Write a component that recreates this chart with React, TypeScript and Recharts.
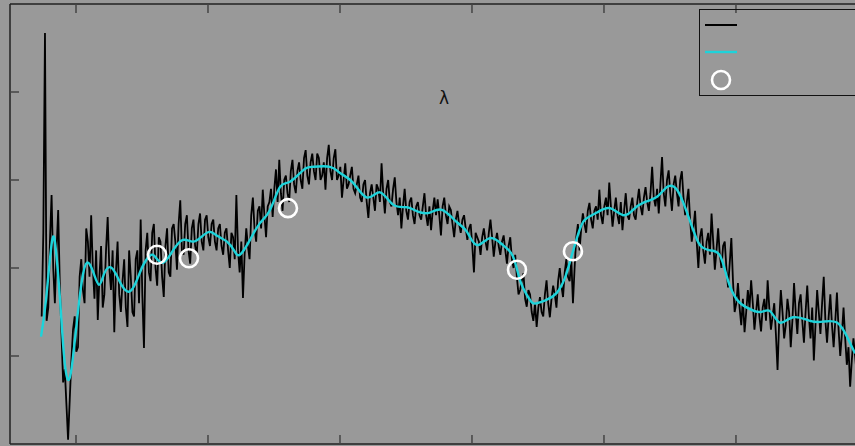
import React from 'react';
import { ComposedChart, Line, Scatter, XAxis, YAxis, Legend } from 'recharts';

// Observed (noisy) spectrum. Samples A at BLACK_START + i*BLACK_STEP,
// samples B halfway between consecutive A samples.
const BLACK_START = 3740;
const BLACK_STEP = 25;
const blackFluxA = [
  1.45, 4.67, 1.55, 2.83, 1.6, 2.66, 1.25, 0.85, 0.05, 0.95,
  1.45, 1.1, 2.1, 1.6, 2.3, 2.6, 1.65, 1.41, 2.25, 1.7,
  2.58, 1.75, 1.27, 2.3, 1.5, 2.1, 1.33, 1.9, 1.45, 2.2,
  2.55, 1.09, 2.4, 1.85, 2.5, 1.8, 2.3, 1.67, 2.45, 1.9,
  2.5, 1.98, 2.77, 2.15, 2.6, 2.05, 2.55, 2.15, 2.62, 2.2,
  2.6, 2.25, 2.55, 2.2, 2.5, 2.15, 2.45, 2.0, 2.35, 2.83,
  1.95, 1.66, 2.45, 2.1, 2.8, 2.3, 2.7, 2.89, 2.35, 2.75,
  2.58, 3.12, 3.23, 2.65, 3.05, 2.75, 3.23, 2.85, 3.2, 2.9,
  3.34, 2.95, 3.3, 3.0, 3.25, 3.05, 2.89, 3.4, 3.0, 3.35,
  3.05, 2.8, 3.19, 2.95, 3.15, 2.85, 3.05, 2.75, 3.0, 2.57,
  2.95, 2.65, 2.9, 3.19, 2.62, 3.0, 2.7, 3.03, 2.6, 2.45,
  2.9, 2.55, 2.8, 2.5, 2.75, 2.55, 2.85, 2.48, 2.43, 2.8,
  2.78, 2.37, 2.8, 2.5, 2.66, 2.35, 2.65, 2.4, 2.6, 2.32,
  2.5, 1.95, 2.35, 2.15, 2.45, 2.2, 2.55, 2.13, 2.4, 2.15,
  2.37, 2.05, 2.35, 2.0, 1.9, 1.75, 1.94, 1.56, 1.7, 1.4,
  1.33, 1.67, 1.45, 1.86, 1.44, 1.8, 1.55, 2.0, 1.67, 2.1,
  1.85, 1.6, 2.35, 2.2, 2.62, 2.4, 2.74, 2.45, 2.7, 2.89,
  2.5, 2.8, 2.97, 2.47, 2.8, 2.5, 2.43, 2.85, 2.55, 2.8,
  2.55, 2.9, 2.6, 2.92, 2.65, 3.15, 2.7, 2.62, 3.26, 2.7,
  3.11, 2.65, 3.05, 2.7, 3.1, 2.6, 2.9, 2.3, 2.65, 2.0,
  2.45, 2.05, 2.4, 2.62, 1.98, 2.45, 2.0, 2.3, 1.78, 2.34,
  1.5, 1.83, 1.35, 1.27, 1.75, 1.86, 1.3, 1.7, 1.28, 1.65,
  1.86, 1.3, 1.6, 0.84, 1.75, 1.2, 1.65, 1.1, 1.83, 1.25,
  1.7, 1.15, 1.8, 1.2, 0.95, 1.75, 1.25, 1.9, 1.15, 1.7,
  1.1, 1.72, 1.0, 1.55, 0.9, 0.65, 1.2, 0.8,
];
const blackFluxB = [
  2.4, 1.4, 2.3, 2.0, 2.2, 1.8, 0.7, 0.45, 0.5, 1.3,
  1.05, 1.9, 1.75, 2.45, 1.9, 2.0, 2.2, 1.9, 1.55, 2.2,
  2.0, 2.2, 1.95, 1.7, 1.85, 1.55, 2.2, 1.5, 2.1, 1.6,
  1.7, 2.2, 1.95, 2.4, 2.0, 2.35, 1.9, 2.25, 1.95, 2.45,
  2.3, 2.5, 2.2, 2.5, 2.2, 2.45, 2.25, 2.5, 2.3, 2.55,
  2.35, 2.5, 2.3, 2.45, 2.25, 2.4, 2.2, 2.4, 2.1, 2.2,
  2.3, 2.15, 2.25, 2.6, 2.45, 2.65, 2.45, 2.6, 2.7, 2.9,
  2.9, 2.75, 2.85, 3.0, 2.85, 3.1, 2.95, 3.1, 3.0, 3.25,
  3.05, 3.2, 3.1, 3.3, 3.0, 3.2, 3.25, 3.1, 3.25, 3.0,
  3.15, 3.0, 2.9, 3.05, 2.9, 2.95, 2.8, 2.95, 2.75, 2.85,
  2.8, 2.95, 2.75, 2.85, 2.9, 2.75, 2.9, 2.75, 2.8, 2.7,
  2.65, 2.75, 2.6, 2.7, 2.6, 2.7, 2.6, 2.7, 2.65, 2.6,
  2.6, 2.7, 2.6, 2.7, 2.5, 2.55, 2.5, 2.55, 2.45, 2.45,
  2.25, 2.4, 2.3, 2.35, 2.3, 2.4, 2.35, 2.3, 2.25, 2.3,
  2.2, 2.25, 2.1, 2.15, 1.7, 1.85, 1.65, 1.75, 1.5, 1.6,
  1.55, 1.5, 1.7, 1.6, 1.65, 1.7, 1.85, 1.8, 1.95, 1.9,
  2.1, 2.0, 2.5, 2.45, 2.5, 2.65, 2.55, 2.65, 2.55, 2.6,
  2.7, 2.6, 2.7, 2.65, 2.6, 2.75, 2.65, 2.6, 2.7, 2.6,
  2.75, 2.7, 2.8, 2.75, 2.85, 2.8, 2.9, 2.95, 2.85, 3.0,
  2.85, 2.95, 2.85, 3.0, 2.8, 2.75, 2.55, 2.45, 2.3, 2.35,
  2.2, 2.3, 2.15, 2.3, 2.2, 2.15, 2.25, 2.0, 2.05, 1.85,
  1.6, 1.55, 1.65, 1.5, 1.55, 1.6, 1.5, 1.45, 1.55, 1.4,
  1.55, 1.45, 1.25, 1.4, 1.5, 1.35, 1.5, 1.4, 1.5, 1.6,
  1.4, 1.5, 1.45, 1.55, 1.35, 1.5, 1.6, 1.4, 1.45, 1.35,
  1.4, 1.3, 1.25, 1.2, 1.1, 0.95, 1.0,
];

// Smoothed spectrum
const smoothWl = [
  3735, 3773, 3818, 3848, 3879, 3909, 3939, 3970, 4008, 4045, 4083, 4129, 4174, 4212, 4258, 4303,
  4348, 4402, 4455, 4508, 4561, 4598, 4659, 4735, 4811, 4886, 4955, 5015, 5076, 5144, 5197, 5242,
  5318, 5394, 5470, 5545, 5621, 5720, 5795, 5924, 6000, 6098, 6205, 6303, 6402, 6508, 6591, 6682,
  6773, 6886, 6962, 7038, 7136, 7235, 7311, 7364, 7417, 7462, 7515, 7568, 7644, 7705, 7742, 7803,
  7856, 7947, 8045, 8144, 8220, 8295, 8402, 8477, 8553, 8629, 8705, 8750, 8803, 8879, 8939, 9008,
  9083, 9182, 9258, 9333, 9432, 9561, 9659, 9765, 9841, 9902,
];
const smoothFlux = [
  1.22, 1.64, 2.30, 2.20, 1.64, 1.01, 0.73, 0.90, 1.41, 1.86, 2.06, 1.96, 1.81, 1.93, 2.01, 1.93,
  1.80, 1.73, 1.84, 2.03, 2.14, 2.13, 2.06, 2.20, 2.32, 2.30, 2.36, 2.41, 2.36, 2.30, 2.20, 2.15,
  2.32, 2.51, 2.66, 2.92, 2.98, 3.11, 3.15, 3.15, 3.08, 2.97, 2.80, 2.86, 2.72, 2.69, 2.64, 2.63,
  2.66, 2.52, 2.41, 2.26, 2.34, 2.26, 2.13, 1.86, 1.69, 1.60, 1.61, 1.64, 1.72, 1.89, 2.07, 2.38,
  2.55, 2.63, 2.68, 2.60, 2.66, 2.74, 2.81, 2.92, 2.89, 2.63, 2.32, 2.23, 2.20, 2.14, 1.86, 1.64,
  1.55, 1.50, 1.51, 1.38, 1.44, 1.40, 1.39, 1.38, 1.22, 1.03,
];

// Marked points
const markWl = [4614, 4856, 5606, 7341, 7765];
const markFlux = [2.15, 2.11, 2.68, 1.98, 2.19];

const xTicks = [4000, 5000, 6000, 7000, 8000, 9000];
const yTicks = [1, 2, 3, 4];
const X_DOMAIN: [number, number] = [3500, 9920];
const Y_DOMAIN: [number, number] = [0, 5];

const blackData: { x: number; y: number }[] = [];
blackFluxA.forEach((y, i) => {
  blackData.push({ x: BLACK_START + i * BLACK_STEP, y });
  if (i < blackFluxB.length) {
    blackData.push({ x: BLACK_START + i * BLACK_STEP + BLACK_STEP / 2, y: blackFluxB[i] });
  }
});
const smoothData = smoothWl.map((x, i) => ({ x, y: smoothFlux[i] }));
const markData = markWl.map((x, i) => ({ x, y: markFlux[i] }));

const BG = '#999999';
const CYAN = '#1dd3da';

const RingShape = (props: any) => (
  <circle cx={props.cx} cy={props.cy} r={9} fill="none" stroke="#ffffff" strokeWidth={2.6} />
);

const LegendBox = () => (
  <div style={{ width: 170, height: 87, border: '1.5px solid #111', boxSizing: 'border-box' }}>
    <svg width={168} height={84} style={{ display: 'block' }}>
      <line x1={5} y1={15} x2={37} y2={15} stroke="#000" strokeWidth={2} />
      <line x1={5} y1={42} x2={37} y2={42} stroke={CYAN} strokeWidth={2.4} />
      <circle cx={21} cy={70} r={9} fill="none" stroke="#fff" strokeWidth={2.6} />
    </svg>
  </div>
);

const noLabel = () => '';
const axisLineStyle = { stroke: '#222', strokeWidth: 1.5 };
const tickLineStyle = { stroke: '#444', strokeWidth: 1.5 };

export default function App() {
  return (
    <div
      style={{
        position: 'fixed',
        left: 0,
        top: 0,
        width: 855,
        height: 446,
        overflow: 'hidden',
        background: BG,
      }}
    >
      <ComposedChart
        width={870}
        height={446}
        margin={{ top: 4, right: 12.6, bottom: 2, left: 10 }}
      >
        <XAxis
          dataKey="x"
          type="number"
          domain={X_DOMAIN}
          ticks={xTicks}
          allowDataOverflow
          orientation="bottom"
          mirror
          tickSize={9}
          tickFormatter={noLabel}
          axisLine={axisLineStyle}
          tickLine={tickLineStyle}
        />
        <XAxis
          xAxisId="top"
          dataKey="x"
          type="number"
          domain={X_DOMAIN}
          ticks={xTicks}
          allowDataOverflow
          orientation="top"
          mirror
          tickSize={9}
          tickFormatter={noLabel}
          axisLine={axisLineStyle}
          tickLine={tickLineStyle}
        />
        <YAxis
          dataKey="y"
          type="number"
          domain={Y_DOMAIN}
          ticks={yTicks}
          allowDataOverflow
          mirror
          tickSize={9}
          tickFormatter={noLabel}
          axisLine={axisLineStyle}
          tickLine={tickLineStyle}
        />
        <Legend
          layout="vertical"
          align="center"
          verticalAlign="middle"
          content={() => <LegendBox />}
          wrapperStyle={{ left: 699, top: 9, width: 170, height: 87 }}
        />
        <Line
          name="observed"
          data={blackData}
          dataKey="y"
          type="linear"
          stroke="#000000"
          strokeWidth={1.8}
          dot={false}
          isAnimationActive={false}
        />
        <Line
          name="smoothed"
          data={smoothData}
          dataKey="y"
          type="natural"
          stroke={CYAN}
          strokeWidth={2.4}
          dot={false}
          isAnimationActive={false}
        />
        <Scatter
          name="points"
          data={markData}
          dataKey="y"
          shape={RingShape}
          isAnimationActive={false}
        />
      </ComposedChart>
      <span
        style={{
          position: 'absolute',
          left: 439,
          top: 88,
          fontFamily: '"DejaVu Sans", sans-serif',
          fontSize: 17,
          color: '#111',
          lineHeight: '20px',
        }}
      >
        λ
      </span>
    </div>
  );
}
